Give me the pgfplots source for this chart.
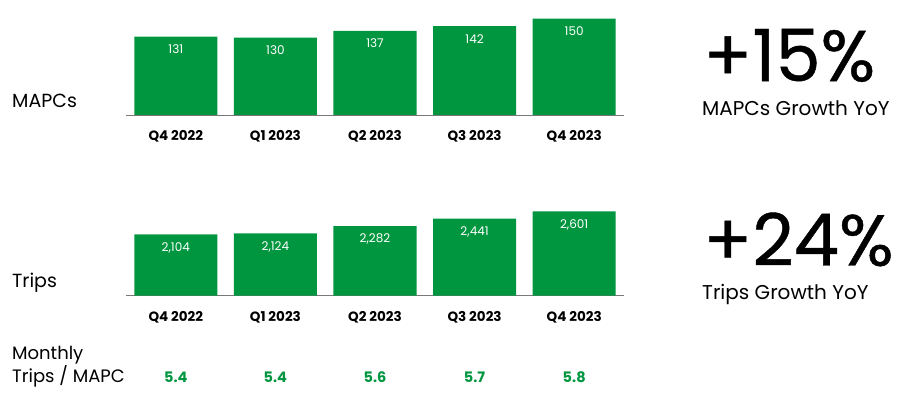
\documentclass[border=0pt]{standalone}
\usepackage{pgfplots}
\pgfplotsset{compat=1.18}
\usepackage{fontspec}
\setmainfont{Poppins}
\newfontfamily\bigfont[FakeBold=0.6]{Poppins}
\definecolor{ugreen}{RGB}{0,150,64}
\definecolor{axgray}{RGB}{120,120,120}
\pgfplotsset{barax/.style={
  scale only axis, width=498pt, xmin=-0.5, xmax=4.5,
  axis x line=bottom, axis y line=none,
  axis line style={axgray, line width=0.8pt, -},
  xtick=data, xticklabels={Q4 2022,Q1 2023,Q2 2023,Q3 2023,Q4 2023},
  xticklabel style={font=\fontsize{13.5}{16}\selectfont\bfseries, yshift=-12pt},
  major tick length=0pt,
  ybar, bar width=83pt,
  /pgf/number format/assume math mode=true,
  /pgf/number format/1000 sep={,},
  nodes near coords,
  every node near coord/.append style={anchor=north, text=white, font=\fontsize{12}{14}\selectfont, yshift=-4.5pt},
}}
\begin{document}
\begin{tikzpicture}[x=1pt,y=1pt]
\path[use as bounding box] (0,0) rectangle (908,398);
\begin{axis}[barax, at={(126pt,283pt)}, anchor=south west, height=96.3pt, ymin=48, ymax=150]
\addplot[fill=ugreen, draw=none] coordinates {(0,131) (1,130) (2,137) (3,142) (4,150)};
\end{axis}
\begin{axis}[barax, at={(126pt,102.3pt)}, anchor=south west, height=84.4pt, ymin=780, ymax=2601]
\addplot[fill=ugreen, draw=none] coordinates {(0,2104) (1,2124) (2,2282) (3,2441) (4,2601)};
\end{axis}
\begin{axis}[scale only axis, width=498pt, height=10pt, at={(126pt,16pt)}, anchor=south west,
  hide axis, xmin=-0.5, xmax=4.5, ymin=0, ymax=1,
  /pgf/number format/assume math mode=true,
  /pgf/number format/fixed, /pgf/number format/fixed zerofill, /pgf/number format/precision=1,
  nodes near coords, point meta=explicit,
  every node near coord/.append style={anchor=center, text=ugreen, font=\fontsize{14.5}{17}\selectfont\bfseries}]
\addplot[draw=none, mark=none] coordinates {(0,0.5) [5.4] (1,0.5) [5.4] (2,0.5) [5.6] (3,0.5) [5.7] (4,0.5) [5.8]};
\end{axis}
\node[anchor=west, inner sep=0pt, font=\fontsize{19}{22}\selectfont] at (12,297) {MAPCs};
\node[anchor=west, inner sep=0pt, font=\fontsize{19}{22}\selectfont] at (12,115) {Trips};
\node[anchor=west, inner sep=0pt, font=\fontsize{18}{22}\selectfont] at (12,43) {Monthly};
\node[anchor=west, inner sep=0pt, font=\fontsize{18}{22}\selectfont] at (12,22) {Trips / MAPC};
\node[anchor=west, font=\bigfont\fontsize{72}{80}\selectfont, inner sep=0pt, text depth=0pt] at (703,343) {+15\%};
\node[anchor=west, font=\fontsize{20}{24}\selectfont, inner sep=0pt] at (702,290) {MAPCs Growth YoY};
\node[anchor=west, font=\bigfont\fontsize{72}{80}\selectfont, inner sep=0pt, text depth=0pt] at (703,159) {+24\%};
\node[anchor=west, font=\fontsize{20}{24}\selectfont, inner sep=0pt] at (702,104) {Trips Growth YoY};
\end{tikzpicture}
\end{document}
